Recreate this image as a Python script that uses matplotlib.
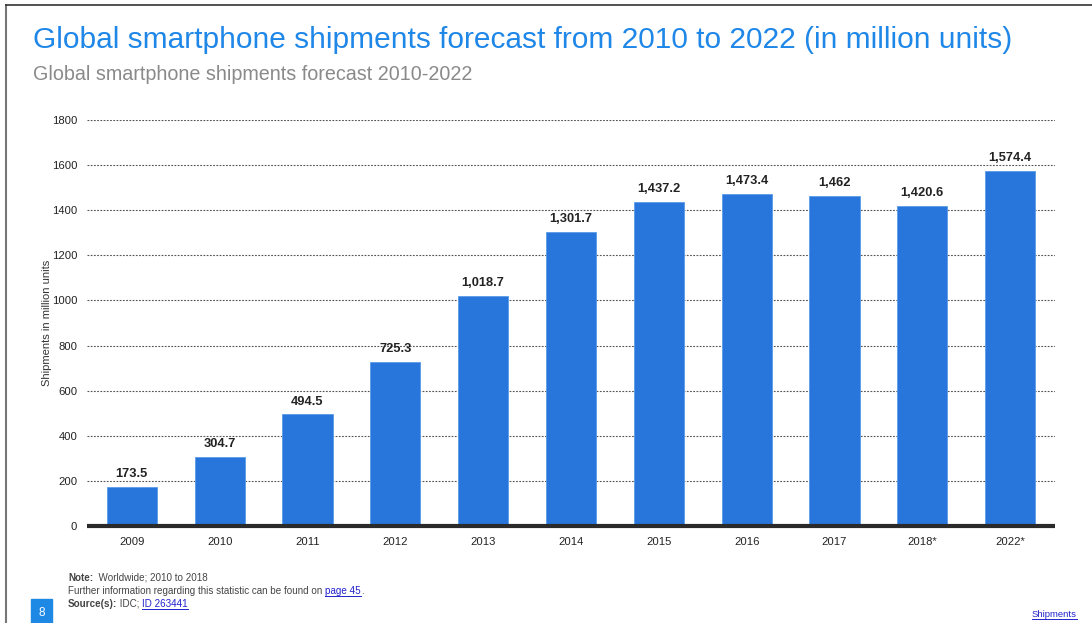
import numpy as np
import matplotlib.pyplot as plt
from matplotlib.patches import Rectangle
from matplotlib.lines import Line2D

plt.rcParams['font.family'] = ['Liberation Sans', 'DejaVu Sans']

# Shipments per year (million units)
years = ['2009', '2010', '2011', '2012', '2013', '2014', '2015', '2016',
         '2017', '2018*', '2022*']
shipments = [173.5, 304.7, 494.5, 725.3, 1018.7, 1301.7, 1437.2, 1473.4,
             1462, 1420.6, 1574.4]
value_labels = ['173.5', '304.7', '494.5', '725.3', '1,018.7', '1,301.7',
                '1,437.2', '1,473.4', '1,462', '1,420.6', '1,574.4']
yticks = [0, 200, 400, 600, 800, 1000, 1200, 1400, 1600, 1800]

bar_color = '#2876dc'
title_blue = '#1f87e8'
link_blue = '#2222cc'
note_grey = '#444444'

W, H = 1092, 623
fig = plt.figure(figsize=(W / 100, H / 100), dpi=100)
ax = fig.add_axes([87 / W, 1 - 526 / H, 968 / W, 406 / H])

x = np.arange(len(years))
ax.bar(x, shipments, width=0.57, color=bar_color, edgecolor='#5a9be8',
       linewidth=0.6, zorder=3)

for xi, v, lab in zip(x, shipments, value_labels):
    ax.annotate(lab, (xi, v), xytext=(0, 5), textcoords='offset points',
                ha='center', va='bottom', fontsize=9.3, fontweight='bold',
                color='#222222')

ax.set_xlim(-0.51, len(years) - 0.49)
ax.set_ylim(0, 1800)
ax.set_yticks(yticks)
ax.set_yticklabels([str(t) for t in yticks])
ax.set_xticks(x)
ax.set_xticklabels(years)
ax.tick_params(axis='both', length=0, labelsize=8.1, colors='#222222')
ax.tick_params(axis='y', pad=7)
ax.tick_params(axis='x', pad=8)

ax.grid(True, axis='y', linestyle=(0, (1.6, 1.3)), linewidth=0.8,
        color='#555555', zorder=0)
for s in ['top', 'right', 'left']:
    ax.spines[s].set_visible(False)
ax.spines['bottom'].set_linewidth(3)
ax.spines['bottom'].set_color('#2a2a2a')
ax.spines['bottom'].set_capstyle('butt')
ax.spines['bottom'].set_zorder(4)

ax.set_ylabel('Shipments in million units', fontsize=8, color='#333333')
ax.yaxis.set_label_coords(-0.036, 0.5)

# Titles
fig.text(33 / W, 1 - 40 / H,
         'Global smartphone shipments forecast from 2010 to 2022 (in million units)',
         fontsize=21.5, color=title_blue, va='center', ha='left')
fig.text(33 / W, 1 - 75 / H, 'Global smartphone shipments forecast 2010-2022',
         fontsize=14.2, color='#8a8a8a', va='center', ha='left')

# Slide frame
fig.add_artist(Line2D([6 / W, 6 / W], [0, 1 - 5 / H], color='#777777',
                      linewidth=1.5, transform=fig.transFigure))
fig.add_artist(Line2D([6 / W, 1], [1 - 5 / H, 1 - 5 / H], color='#333333',
                      linewidth=1.2, transform=fig.transFigure))

renderer = fig.canvas.get_renderer()


def text_run(x0, y_px, parts, size=7.1):
    """Draw text pieces one after another on a baseline; links get underlined."""
    xpos = x0
    for s, color, weight, link in parts:
        t = fig.text(xpos / W, 1 - y_px / H, s, fontsize=size, color=color,
                     fontweight=weight, va='baseline', ha='left')
        bb = t.get_window_extent(renderer)
        if link:
            yline = H - y_px - 2
            fig.add_artist(Line2D([bb.x0 / W, bb.x1 / W], [yline / H, yline / H],
                                  color=color, linewidth=0.7,
                                  transform=fig.transFigure))
        xpos = bb.x1


# Footnotes
text_run(68, 581, [('Note:', note_grey, 'bold', False),
                   ('  Worldwide; 2010 to 2018', note_grey, 'normal', False)])
text_run(68, 594, [('Further information regarding this statistic can be found on ',
                    note_grey, 'normal', False),
                   ('page 45', link_blue, 'normal', True),
                   ('.', note_grey, 'normal', False)])
text_run(68, 607, [('Source(s):', note_grey, 'bold', False),
                   (' IDC; ', note_grey, 'normal', False),
                   ('ID 263441', link_blue, 'normal', True)])

# Page number box
fig.add_artist(Rectangle((31 / W, 0), 21 / W, 24 / H, color='#1e88e5',
                         transform=fig.transFigure))
fig.text(41.5 / W, 10 / H, '8', fontsize=8.5, color='white', ha='center',
         va='center')

text_run(1032, 617, [('Shipments', link_blue, 'normal', True)], size=6.8)

fig.savefig('out.png', dpi=100)
